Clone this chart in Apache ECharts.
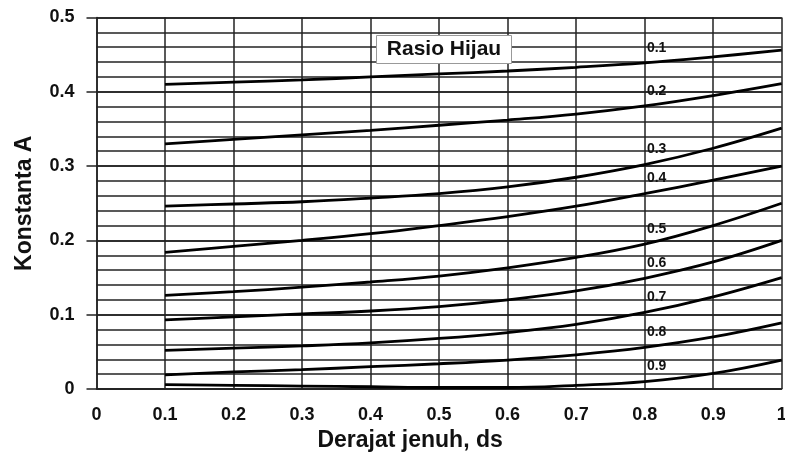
<!DOCTYPE html>
<html>
<head>
<meta charset="utf-8">
<script src="https://cdn.jsdelivr.net/npm/echarts@6/dist/echarts.min.js"></script>
<style>
  html, body { margin: 0; padding: 0; background: #fff; }
  #chart { width: 785px; height: 457px; }
</style>
</head>
<body>
<div id="chart"></div>
<script>
// Degree of saturation (ds) sampled along each curve
const dsValues = [0.1, 0.2, 0.3, 0.4, 0.5, 0.6, 0.7, 0.8, 0.9, 1.0];

// Green ratio of each curve
const greenRatios = ['0.1', '0.2', '0.3', '0.4', '0.5', '0.6', '0.7', '0.8', '0.9'];

// Constant A for each green ratio, one value per ds sample
const constA01 = [0.410, 0.413, 0.416, 0.420, 0.424, 0.428, 0.433, 0.439, 0.447, 0.456];
const constA02 = [0.330, 0.336, 0.342, 0.348, 0.355, 0.362, 0.370, 0.381, 0.395, 0.411];
const constA03 = [0.246, 0.249, 0.252, 0.257, 0.263, 0.272, 0.285, 0.302, 0.324, 0.351];
const constA04 = [0.184, 0.192, 0.200, 0.209, 0.220, 0.232, 0.246, 0.263, 0.281, 0.300];
const constA05 = [0.126, 0.131, 0.137, 0.144, 0.152, 0.163, 0.177, 0.195, 0.220, 0.250];
const constA06 = [0.093, 0.097, 0.101, 0.105, 0.111, 0.120, 0.132, 0.149, 0.171, 0.200];
const constA07 = [0.052, 0.055, 0.058, 0.062, 0.068, 0.076, 0.087, 0.103, 0.124, 0.150];
const constA08 = [0.019, 0.023, 0.026, 0.030, 0.034, 0.039, 0.046, 0.056, 0.070, 0.089];
const constA09 = [0.006, 0.005, 0.004, 0.003, 0.002, 0.002, 0.005, 0.010, 0.021, 0.039];

const curves = [constA01, constA02, constA03, constA04, constA05, constA06, constA07, constA08, constA09];

// ds position where the ratio label sits above each curve
const labelDs = 0.8;

const FONT = 'Liberation Sans, Arial, sans-serif';

const series = curves.map((vals, i) => {
  const li = dsValues.indexOf(labelDs);
  return {
    name: greenRatios[i],
    type: 'line',
    smooth: 0.4,
    symbol: 'none',
    data: dsValues.map((x, j) => [x, vals[j]]),
    lineStyle: { color: '#000', width: 2.8 },
    z: 5,
    markPoint: {
      symbol: 'circle',
      symbolSize: 0,
      silent: true,
      data: [{ coord: [labelDs, vals[li]] }],
      label: {
        show: true,
        position: 'inside',
        formatter: greenRatios[i],
        offset: [12, -15],
        color: '#111',
        fontFamily: FONT,
        fontWeight: 'bold',
        fontSize: 14
      }
    }
  };
});

const chart = echarts.init(document.getElementById('chart'), null, { renderer: 'canvas' });

chart.setOption({
  animation: false,
  backgroundColor: '#fff',
  grid: { left: 96.5, right: 3.3, top: 17.5, bottom: 68, containLabel: false, outerBoundsMode: 'none' },
  xAxis: {
    type: 'value',
    min: 0,
    max: 1,
    interval: 0.1,
    name: 'Derajat jenuh, ds',
    nameLocation: 'middle',
    nameGap: 38,
    nameTextStyle: {
      fontFamily: FONT, fontWeight: 'bold', fontSize: 23, color: '#111',
      padding: [0, 58, 0, 0]
    },
    axisLine: { show: true, lineStyle: { color: '#222', width: 1.5 } },
    axisTick: { show: false },
    axisLabel: {
      margin: 17,
      fontFamily: FONT, fontWeight: 'bold', fontSize: 18, color: '#111',
      formatter: v => (Math.round(v * 10) / 10).toString()
    },
    splitLine: { show: true, lineStyle: { color: '#222', width: 1.5 } }
  },
  yAxis: [
    {
      type: 'value',
      min: 0,
      max: 0.5,
      interval: 0.1,
      name: 'Konstanta A',
      nameLocation: 'middle',
      nameGap: 60,
      nameTextStyle: { fontFamily: FONT, fontWeight: 'bold', fontSize: 23, color: '#111' },
      axisLine: { show: true, lineStyle: { color: '#222', width: 1.5 } },
      axisTick: { show: true, length: 10, inside: false, lineStyle: { color: '#222', width: 1.5 } },
      axisLabel: {
        margin: 22,
        fontFamily: FONT, fontWeight: 'bold', fontSize: 18, color: '#111',
        formatter: v => (Math.round(v * 10) / 10).toString()
      },
      splitLine: { show: true, lineStyle: { color: '#222', width: 1.5 } }
    },
    {
      // fine horizontal grid every 0.02
      type: 'value',
      min: 0,
      max: 0.5,
      interval: 0.02,
      position: 'left',
      axisLine: { show: false },
      axisTick: { show: false },
      axisLabel: { show: false },
      splitLine: { show: true, lineStyle: { color: '#222', width: 1.5 } }
    }
  ],
  series: series,
  graphic: [
    {
      type: 'group',
      z: 100,
      children: [
        {
          type: 'rect',
          shape: { x: 376.5, y: 35.5, width: 135, height: 28 },
          style: { fill: '#fff', stroke: '#999', lineWidth: 1 },
          z: 100
        },
        {
          type: 'text',
          x: 444,
          y: 49.5,
          style: {
            text: 'Rasio Hijau',
            fill: '#111',
            font: 'bold 21px ' + FONT,
            align: 'center',
            verticalAlign: 'middle'
          },
          z: 101
        }
      ]
    }
  ]
});
</script>
</body>
</html>
